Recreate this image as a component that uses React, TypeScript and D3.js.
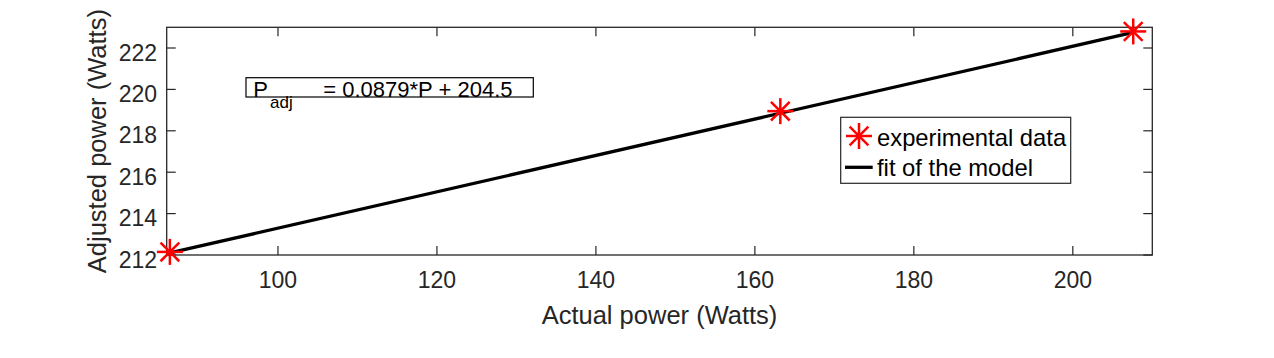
import React from 'react'
import { scaleLinear, line } from 'd3'

// experimental points
const actualPower = [86.4, 163.2, 207.6]
const adjustedPower = [212.15, 218.95, 222.8]

// fitted model line (Padj = 0.0879*P + 204.5), endpoints
const fitActual = [86.4, 207.6]
const fitAdjusted = [212.1, 222.75]

const xTicks = [100, 120, 140, 160, 180, 200]
const yTicks = [212, 214, 216, 218, 220, 222]
const xDomain = [86, 210]
const yDomain = [212, 223]

const legendLabels = ['experimental data', 'fit of the model']

const font = 'Liberation Sans, Arial, Helvetica, sans-serif'
const axisColor = '#262626'

const Star = ({ x, y, r = 13 }: { x: number; y: number; r?: number }) => {
	const d = r * 0.72
	return (
		<g stroke="#ff0000" strokeWidth={2.5}>
			<line x1={x - r} y1={y} x2={x + r} y2={y} />
			<line x1={x} y1={y - r} x2={x} y2={y + r} />
			<line x1={x - d} y1={y - d} x2={x + d} y2={y + d} />
			<line x1={x - d} y1={y + d} x2={x + d} y2={y - d} />
		</g>
	)
}

const App = () => {
	const width = 1274
	const height = 358
	const box = { left: 166.7, right: 1152.3, top: 27.3, bottom: 255 }

	const x = scaleLinear().domain(xDomain).range([box.left, box.right])
	const y = scaleLinear().domain(yDomain).range([box.bottom, box.top])

	const fitPath = line<number>()
		.x((d) => x(d))
		.y((_, i) => y(fitAdjusted[i]))(fitActual)

	const tickLen = 9

	return (
		<svg
			width={width}
			height={height}
			style={{ position: 'absolute', left: 0, top: 0, background: '#fff' }}
			fontFamily={font}
		>
			{/* axes box */}
			<rect
				x={box.left}
				y={box.top}
				width={box.right - box.left}
				height={box.bottom - box.top}
				fill="none"
				stroke={axisColor}
				strokeWidth={1.3}
			/>

			{/* x ticks, bottom and top */}
			{xTicks.map((t) => (
				<g key={`xt-${t}`} stroke={axisColor} strokeWidth={1.2}>
					<line x1={x(t)} x2={x(t)} y1={box.bottom} y2={box.bottom - tickLen} />
					<line x1={x(t)} x2={x(t)} y1={box.top} y2={box.top + tickLen} />
				</g>
			))}
			{xTicks.map((t) => (
				<text key={`xl-${t}`} x={x(t)} y={288} textAnchor="middle" fontSize={23} fill={axisColor}>
					{t}
				</text>
			))}

			{/* y ticks, left and right */}
			{yTicks.map((t) => (
				<g key={`yt-${t}`} stroke={axisColor} strokeWidth={1.2}>
					<line x1={box.left} x2={box.left + tickLen} y1={y(t)} y2={y(t)} />
					<line x1={box.right} x2={box.right - tickLen} y1={y(t)} y2={y(t)} />
				</g>
			))}
			{yTicks.map((t) => (
				<text key={`yl-${t}`} x={157} y={y(t) + 12.5} textAnchor="end" fontSize={23} fill={axisColor}>
					{t}
				</text>
			))}

			{/* axis labels */}
			<text x={(box.left + box.right) / 2} y={323.5} textAnchor="middle" fontSize={25.5} fill={axisColor}>
				Actual power (Watts)
			</text>
			<text
				transform={`translate(106, ${(box.top + box.bottom) / 2}) rotate(-90)`}
				textAnchor="middle"
				fontSize={25.5}
				fill={axisColor}
			>
				Adjusted power (Watts)
			</text>

			{/* fit line */}
			<path d={fitPath || ''} fill="none" stroke="#000" strokeWidth={3.3} />

			{/* data points */}
			{actualPower.map((p, i) => (
				<Star key={`pt-${i}`} x={x(p)} y={y(adjustedPower[i])} />
			))}

			{/* equation annotation */}
			<rect x={246} y={77.7} width={287.3} height={19.3} fill="none" stroke="#000" strokeWidth={1.2} />
			<text x={253.3} y={96.5} fontSize={22} fill="#000">P</text>
			<text x={270} y={108} fontSize={17} fill="#000">adj</text>
			<text x={323.3} y={96.5} fontSize={22} fill="#000">= 0.0879*P + 204.5</text>

			{/* legend */}
			<rect x={840.7} y={117.3} width={230} height={66} fill="#fff" stroke={axisColor} strokeWidth={1.2} />
			<Star x={859} y={136} />
			<text x={877} y={145.5} fontSize={23.8} fill="#000">{legendLabels[0]}</text>
			<line x1={845} x2={872.7} y1={167.3} y2={167.3} stroke="#000" strokeWidth={3.3} />
			<text x={877} y={175.5} fontSize={23.8} fill="#000">{legendLabels[1]}</text>
		</svg>
	)
}

export default App
